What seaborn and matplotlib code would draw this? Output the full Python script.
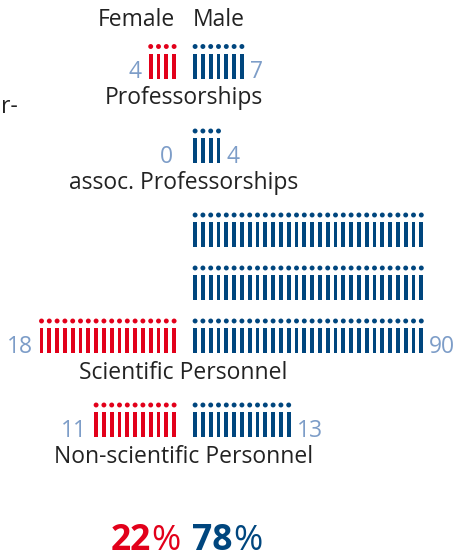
import numpy as np
import pandas as pd
import matplotlib
matplotlib.use("Agg")
import matplotlib.pyplot as plt
from matplotlib.path import Path
import seaborn as sns

# Staff counts per category
categories = ["Professorships", "assoc. Professorships", "Scientific Personnel", "Non-scientific Personnel"]
female = [4, 0, 18, 11]
male = [7, 4, 90, 13]
sexes = ["Female", "Male"]

RED = "#e2001a"
NAVY = "#00467e"
NUM = "#7d9dc8"
TXT = "#222222"

sns.set_theme(style="white")
plt.rcParams["font.family"] = ["Open Sans", "DejaVu Sans"]

W, H = 456, 558
fig = plt.figure(figsize=(W / 100, H / 100), dpi=100)
ax = fig.add_axes([0, 0, 1, 1])

# layout (pixel units)
cx = 184.6          # centre line between the two sexes
half_gap = 10.5     # distance from centre to first icon
step = 7.8          # icon pitch
per_row = 30        # icons per row
row_pitch = 53
body_h = 25.0
body_w = 3.8
head_d = 4.9
head_off = 7.0
bases = [78.5, 163, 353, 437]   # baseline (feet) of each category block

rows = []
for cat, base, nf, nm in zip(categories, bases, female, male):
    for sex, n, sign in (("Female", nf, -1), ("Male", nm, 1)):
        for k in range(n):
            r, c = divmod(k, per_row)
            x = cx + sign * (half_gap + c * step)
            yb = base - r * row_pitch
            rows.append(dict(category=cat, sex=sex, x=x,
                             body=yb - body_h / 2,
                             head=yb - body_h - head_off))
icons = pd.DataFrame(rows)

pal = {"Female": RED, "Male": NAVY}
ratio = body_w / body_h
rect = Path([(-ratio / 2, -0.5), (ratio / 2, -0.5), (ratio / 2, 0.5),
             (-ratio / 2, 0.5), (-ratio / 2, -0.5)], closed=True)
pt = 72 / 100
sns.scatterplot(data=icons, x="x", y="body", hue="sex", palette=pal,
                marker=rect, s=(body_h * pt) ** 2, linewidth=0,
                legend=False, ax=ax)
sns.scatterplot(data=icons, x="x", y="head", hue="sex", palette=pal,
                marker="o", s=(head_d * pt) ** 2, linewidth=0,
                legend=False, ax=ax)
ax.set_xlim(0, W)
ax.set_ylim(H, 0)
ax.axis("off")

fs = 16.5
# column headers
ax.text(cx - 9.5, 26, "Female", ha="right", va="baseline", fontsize=fs, color=TXT)
ax.text(cx + 8.5, 26, "Male", ha="left", va="baseline", fontsize=fs, color=TXT)

# count labels and category names
for cat, base, nf, nm in zip(categories, bases, female, male):
    fcols = min(nf, per_row)
    mcols = min(nm, per_row)
    fl = cx - half_gap - (fcols - 1) * step - body_w / 2
    mr = cx + half_gap + (mcols - 1) * step + body_w / 2
    ax.text(fl - 7, base, str(nf), ha="right", va="baseline", fontsize=fs, color=NUM)
    ax.text(mr + 6, base, str(nm), ha="left", va="baseline", fontsize=fs, color=NUM)
    ax.text(cx - 1, base + 26, cat, ha="center", va="baseline", fontsize=fs, color=TXT)

ax.text(1, 113, "r-", ha="left", va="baseline", fontsize=fs, color=TXT)

# overall shares
tot_f, tot_m = sum(female), sum(male)
pf = round(100 * tot_f / (tot_f + tot_m))
pm = round(100 * tot_m / (tot_f + tot_m))
pfs = 25.5
ax.text(151, 550, f"{pf}", ha="right", va="baseline", fontsize=pfs, color=RED, fontweight="bold")
ax.text(151, 550, "%", ha="left", va="baseline", fontsize=pfs, color=RED)
ax.text(233, 550, f"{pm}", ha="right", va="baseline", fontsize=pfs, color=NAVY, fontweight="bold")
ax.text(233, 550, "%", ha="left", va="baseline", fontsize=pfs, color=NAVY)

fig.savefig("out.png", dpi=100)
